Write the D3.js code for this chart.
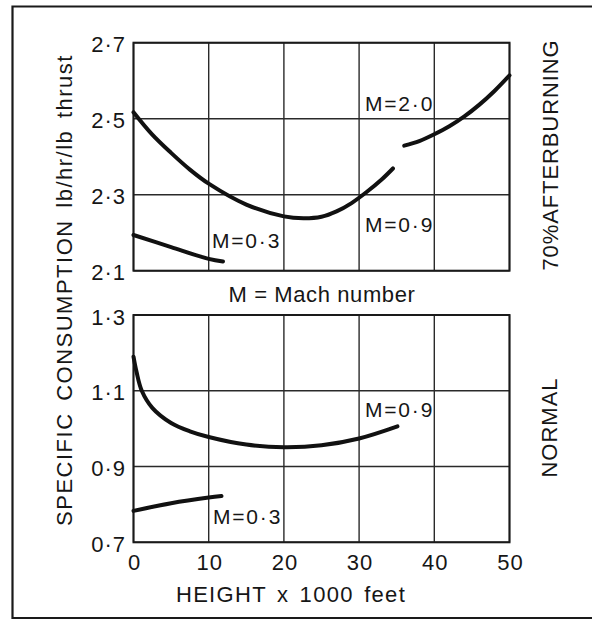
<!DOCTYPE html>
<html>
<head>
<meta charset="utf-8">
<script src="https://cdn.jsdelivr.net/npm/d3@7"></script>
<style>
  html, body { margin: 0; padding: 0; background: #fff; }
  svg { display: block; }
  text { font-family: "Liberation Sans", Arial, sans-serif; fill: #161616; }
</style>
</head>
<body>
<svg id="chart" width="592" height="620"></svg>
<script>
// ---------- data ----------
const heightTicks = [0, 10, 20, 30, 40, 50];
const heightTickLabels = ["0", "10", "20", "30", "40", "50"];
const topTicks = [2.1, 2.3, 2.5, 2.7];
const topTickLabels = ["2·1", "2·3", "2·5", "2·7"];
const bottomTicks = [0.7, 0.9, 1.1, 1.3];
const bottomTickLabels = ["0·7", "0·9", "1·1", "1·3"];

// 70% afterburning panel
const abM09Height = [0, 2.5, 5, 7.5, 10, 15, 20, 22.6, 25, 27, 29, 31, 33, 34.5];
const abM09Value  = [2.517, 2.458, 2.41, 2.366, 2.329, 2.274, 2.243, 2.238, 2.242, 2.256, 2.278, 2.307, 2.340, 2.369];
const abM20Height = [36, 38, 40, 42, 44, 46, 48, 50];
const abM20Value  = [2.429, 2.441, 2.459, 2.480, 2.506, 2.537, 2.573, 2.614];
const abM03Height = [0, 5, 10, 11.9];
const abM03Value  = [2.194, 2.162, 2.131, 2.124];

// normal panel
const nM09Height = [0, 0.4, 1.1, 2.5, 5, 7.5, 10, 15, 20, 25, 30, 35.1];
const nM09Value  = [1.19, 1.15, 1.10, 1.055, 1.015, 0.993, 0.978, 0.958, 0.951, 0.956, 0.974, 1.006];
const nM03Height = [0, 5, 10, 11.7];
const nM03Value  = [0.783, 0.803, 0.818, 0.822];

const panelTitles = ["70%AFTERBURNING", "NORMAL"];

// ---------- layout ----------
const svg = d3.select("#chart");
const x = d3.scaleLinear().domain([0, 50]).range([133.5, 509.5]);
const yTop = d3.scaleLinear().domain([2.1, 2.7]).range([270.7, 42.7]);
const yBot = d3.scaleLinear().domain([0.7, 1.3]).range([542.3, 315]);

// outer frame (open on the right)
svg.append("path")
  .attr("d", "M592,6.5 L12.5,6.5 L12.5,618 L592,618")
  .attr("fill", "none").attr("stroke", "#1a1a1a").attr("stroke-width", 2.2);

function panel(y, ticks, tickLabels) {
  const g = svg.append("g");
  g.selectAll("line.v").data(heightTicks).join("line")
    .attr("x1", d => x(d)).attr("x2", d => x(d))
    .attr("y1", y.range()[1]).attr("y2", y.range()[0])
    .attr("stroke", "#2a2a2a").attr("stroke-width", 1.4);
  g.selectAll("line.h").data(ticks).join("line")
    .attr("x1", x(0)).attr("x2", x(50))
    .attr("y1", d => y(d)).attr("y2", d => y(d))
    .attr("stroke", "#2a2a2a").attr("stroke-width", 1.4);
  g.append("rect")
    .attr("x", x(0)).attr("y", y.range()[1])
    .attr("width", x(50) - x(0)).attr("height", y.range()[0] - y.range()[1])
    .attr("fill", "none").attr("stroke", "#1a1a1a").attr("stroke-width", 2);
  g.selectAll("text.t").data(ticks).join("text")
    .attr("x", 126).attr("y", d => y(d) + 9.5)
    .attr("text-anchor", "end")
    .attr("font-size", 22).attr("letter-spacing", 1)
    .text((d, i) => tickLabels[i]);
  return g;
}
panel(yTop, topTicks, topTickLabels);
panel(yBot, bottomTicks, bottomTickLabels);

svg.selectAll("text.xt").data(heightTicks).join("text")
  .attr("x", d => x(d) + 1).attr("y", 570)
  .attr("text-anchor", "middle")
  .attr("font-size", 22).attr("letter-spacing", 1)
  .text((d, i) => heightTickLabels[i]);

function curve(y, hs, vs) {
  const pts = hs.map((h, i) => [h, vs[i]]);
  svg.append("path")
    .datum(pts)
    .attr("d", d3.line().x(d => x(d[0])).y(d => y(d[1])).curve(d3.curveCatmullRom.alpha(0.5)))
    .attr("fill", "none").attr("stroke", "#111").attr("stroke-width", 4)
    .attr("stroke-linecap", "round");
}
curve(yTop, abM09Height, abM09Value);
curve(yTop, abM20Height, abM20Value);
curve(yTop, abM03Height, abM03Value);
curve(yBot, nM09Height, nM09Value);
curve(yBot, nM03Height, nM03Value);

function label(txt, xx, yy) {
  svg.append("text").attr("x", xx).attr("y", yy)
    .attr("font-size", 21).attr("letter-spacing", 1.8)
    .text(txt);
}
label("M=0·3", 212, 247.5);
label("M=2·0", 365, 111);
label("M=0·9", 365, 231.5);
label("M=0·9", 365, 416.5);
label("M=0·3", 213, 524);

svg.append("text").attr("x", 322).attr("y", 302)
  .attr("text-anchor", "middle").attr("font-size", 22).attr("letter-spacing", 0.6)
  .text("M = Mach number");

svg.append("text").attr("x", 291).attr("y", 601.5)
  .attr("text-anchor", "middle").attr("font-size", 22).attr("letter-spacing", 1.3)
  .attr("word-spacing", 3).text("HEIGHT x 1000 feet");

svg.append("text")
  .attr("transform", "translate(71.5,290) rotate(-90)")
  .attr("text-anchor", "middle").attr("font-size", 22).attr("letter-spacing", 1.5)
  .attr("word-spacing", 4).text("SPECIFIC CONSUMPTION  lb/hr/lb thrust");

svg.append("text")
  .attr("transform", "translate(558,155) rotate(-90)")
  .attr("text-anchor", "middle").attr("font-size", 22).attr("letter-spacing", 0.9)
  .text(panelTitles[0]);
svg.append("text")
  .attr("transform", "translate(557,427.5) rotate(-90)")
  .attr("text-anchor", "middle").attr("font-size", 22).attr("letter-spacing", 1)
  .text(panelTitles[1]);
</script>
</body>
</html>
